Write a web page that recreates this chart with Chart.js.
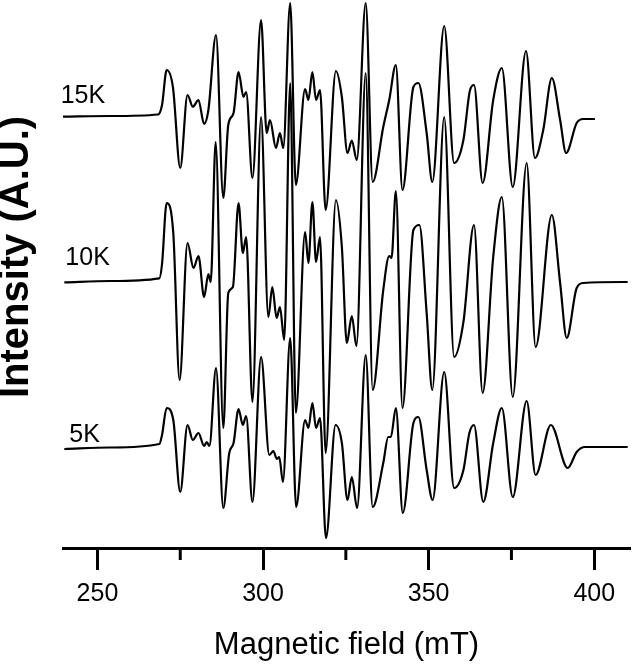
<!DOCTYPE html>
<html>
<head>
<meta charset="utf-8">
<script src="https://cdn.jsdelivr.net/npm/chart.js@4.4.1/dist/chart.umd.min.js"></script>
<style>
  html, body { margin: 0; background: #fff; }
</style>
</head>
<body>
<canvas id="chart" width="633" height="670"></canvas>
<script>
// EPR spectra, [field (mT), intensity (a.u.)]
const spec15K = [
  [239.6,-0.7],[253.8,0],[268.3,1.5],[269.5,11],[270.9,46],[272.8,28.7],[275.0,-52],[277.2,21],
  [278.8,9.3],[280.5,16],[282.2,-8],[283.5,6],[285.8,81],[288.0,-82],[289.5,-9],[291.1,3],
  [292.6,44],[294.1,19],[294.9,24],[296.8,-62],[299.4,96],[301.1,-17],[302.1,-4],[303.9,-32],
  [305.1,-17],[306.1,-32],[308.2,113],[309.9,-69],[312.7,27],[313.7,16],[314.9,44],[316.0,16],
  [317.2,26],[318.9,-94],[322.0,45],[323.8,19],[325.5,-37],[326.8,-24.5],[328.3,-44],[331.0,113],
  [333.1,-66],[336.3,-11],[338.1,16],[340.1,51],[342.1,-74],[345.4,29],[346.9,33],[349.4,-17],
  [351.1,-66],[354.7,90],[357.7,-47],[360.5,-24],[362.5,26],[363.7,31],[366.3,-67],[369.5,16],
  [372.1,48],[375.4,-71],[379.4,65],[382.1,-42],[384.6,-14],[387.2,38],[389.7,-4],[391.5,-37],
  [394.7,-7],[396.7,-3],[400.2,-3]
]
const spec10K = [
  [240.0,-0.3],[253.8,1],[268.7,3.7],[269.5,18],[270.9,79],[272.9,49],[274.8,-98],[277.2,39],
  [279.0,14],[280.5,26],[282.2,-15],[283.5,8],[284.2,0],[285.7,140],[288.0,-146],[289.5,-11],
  [290.9,-5],[292.6,79],[293.9,29],[294.9,45],[296.8,-120],[299.4,165],[301.6,-35],[302.8,-5],
  [304.1,-36],[305.1,-25],[306.4,-58],[308.2,199],[309.9,-131],[312.7,50],[313.7,19],[314.9,80],
  [316.0,20],[317.2,45],[318.9,-171],[322.0,82],[323.8,35],[325.3,-61],[326.8,-34],[328.2,-64],
  [331.0,209],[333.1,-108],[336.3,-8],[338.1,26],[338.8,24],[340.1,91],[342.1,-126],[345.4,52],
  [347.2,57],[349.4,-31],[351.1,-108],[354.7,165],[357.7,-75],[360.5,-40],[363.7,57],[366.3,-111],
  [369.5,25],[372.1,85],[375.4,-115],[379.6,119],[382.3,-65],[387.2,67],[389.7,-1],[391.7,-56],
  [394.7,-6],[396.7,-1],[410.1,0]
]
const spec5K = [
  [240.0,-2],[253.8,-0.5],[268.7,3],[269.5,12],[270.9,39],[272.9,27],[275.0,-45],[277.2,22],
  [278.8,7],[280.5,14],[282.2,1],[283.0,5],[283.8,1],[285.8,79],[288.0,-61],[289.8,-6],
  [291.1,4],[292.6,38],[293.9,22],[294.9,31],[296.8,-55],[299.4,90],[301.9,-8],[303.1,-4],
  [304.2,-12],[304.9,-10],[306.0,-35],[308.2,109],[310.0,-60],[312.7,27],[313.7,19],[314.9,44],
  [316.0,19],[317.2,29],[319.0,-91],[321.9,22],[323.8,4],[325.5,-53],[326.8,-30],[328.4,-61],
  [331.0,92],[333.1,-60],[336.3,-16],[337.8,10],[338.6,10],[340.1,39],[342.2,-66],[345.4,24],
  [346.9,30],[349.4,-23],[351.2,-53],[354.7,75],[357.7,-41],[360.5,-23],[362.3,14],[363.7,22],
  [366.5,-55],[369.5,4],[372.1,39],[375.4,-50],[379.6,46],[382.3,-28],[386.9,22],[392.0,-21],
  [394.7,-5],[397.2,0],[410.1,0]
]

const seriesNames = ['15K', '10K', '5K']
const seriesOffsets = [432, 266, 101]   // vertical stacking of the traces
const majorTicks = [250, 300, 350, 400]
const minorTicks = [275, 325, 375]

const FONT = '"Liberation Sans", Arial, Helvetica, sans-serif'

const specs = [spec15K, spec10K, spec5K]
const datasets = specs.map((s, i) => ({
  label: seriesNames[i],
  data: s.map(p => ({ x: p[0], y: p[1] + seriesOffsets[i] })),
  borderColor: '#000',
  borderWidth: 2.2,
  pointRadius: 0,
  fill: false,
  cubicInterpolationMode: 'monotone',
  clip: false
}))

// minor ticks, trace labels and the y title
const extras = {
  id: 'extras',
  afterDraw(chart) {
    const { ctx, chartArea, scales: { x, y } } = chart
    ctx.save()
    ctx.strokeStyle = '#000'
    ctx.lineWidth = 3
    minorTicks.forEach(v => {
      const px = x.getPixelForValue(v)
      ctx.beginPath()
      ctx.moveTo(px, chartArea.bottom)
      ctx.lineTo(px, chartArea.bottom + 12)
      ctx.stroke()
    })

    const pos = chart.options.plugins.extras.labelPos
    ctx.fillStyle = '#000'
    ctx.font = '25px ' + FONT
    ctx.textAlign = 'left'
    ctx.textBaseline = 'alphabetic'
    seriesNames.forEach((n, i) => {
      ctx.fillText(n, x.getPixelForValue(pos[i][0]), y.getPixelForValue(seriesOffsets[i] + pos[i][1]))
    })

    ctx.translate(17, 257)
    ctx.rotate(-Math.PI / 2)
    ctx.font = 'bold 40px ' + FONT
    ctx.textAlign = 'center'
    ctx.textBaseline = 'middle'
    ctx.fillText('Intensity (A.U.)', 0, 0)
    ctx.restore()
  }
}

new Chart(document.getElementById('chart'), {
  type: 'line',
  data: { datasets },
  plugins: [extras],
  options: {
    responsive: false,
    animation: false,
    devicePixelRatio: 1,
    layout: { padding: { left: 63, right: 3, top: 0, bottom: 0 } },
    plugins: {
      legend: { display: false },
      tooltip: { enabled: false },
      extras: { labelPos: [[238.9, 13], [240.3, 17], [241.5, 5]] }
    },
    scales: {
      x: {
        type: 'linear',
        min: 239.6,
        max: 410.8,
        afterBuildTicks: s => { s.ticks = majorTicks.map(v => ({ value: v })) },
        afterFit: s => { s.height = 122 },
        border: { display: true, color: '#000', width: 3 },
        grid: { drawOnChartArea: false, drawTicks: true, tickLength: 22, tickWidth: 3, tickColor: '#000' },
        ticks: { color: '#000', padding: 9, maxRotation: 0, font: { family: FONT, size: 25 } },
        title: {
          display: true,
          text: 'Magnetic field (mT)',
          color: '#000',
          font: { family: FONT, size: 31 },
          padding: { top: 0, bottom: 6 }
        }
      },
      y: {
        display: false,
        min: 0,
        max: 548
      }
    }
  }
})
</script>
</body>
</html>
